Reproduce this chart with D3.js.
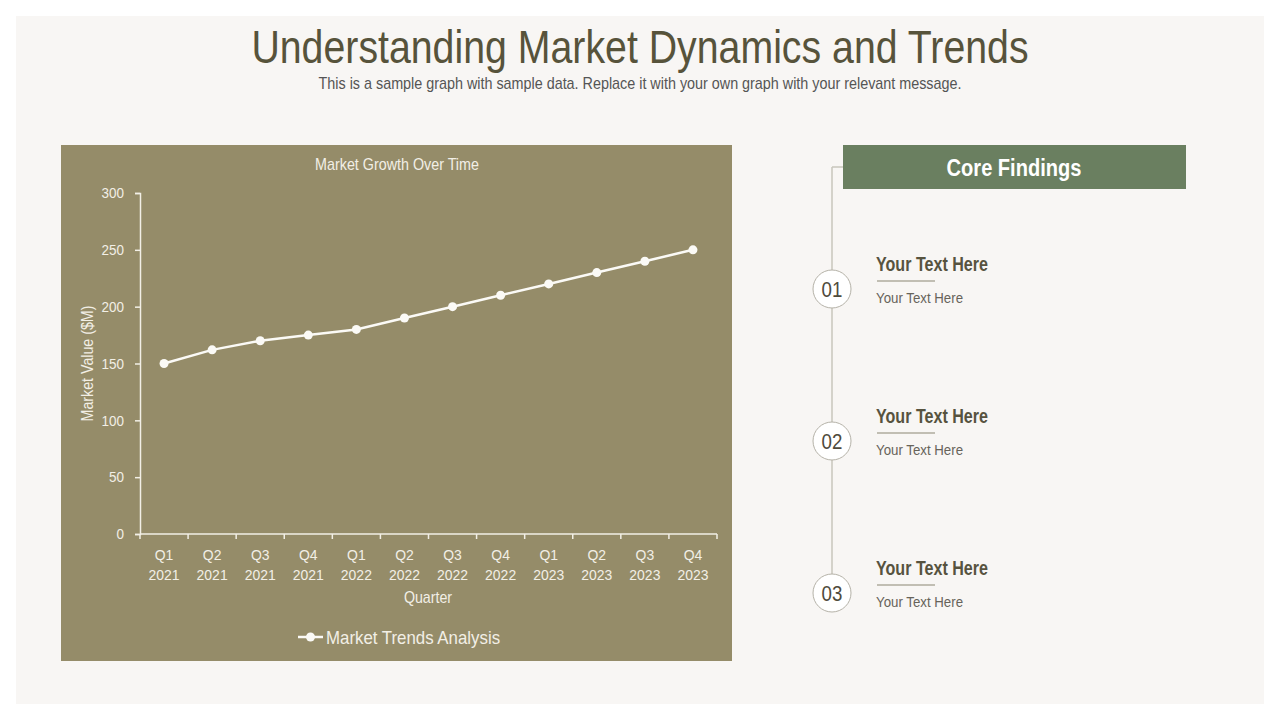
<!DOCTYPE html>
<html>
<head>
<meta charset="utf-8">
<script src="https://cdn.jsdelivr.net/npm/d3@7"></script>
<style>
  html, body { margin: 0; padding: 0; background: #ffffff; }
  svg { display: block; font-family: "Liberation Sans", Arial, sans-serif; }
</style>
</head>
<body>
<div id="chart"></div>
<script>
// data
const quarters = ['Q1', 'Q2', 'Q3', 'Q4', 'Q1', 'Q2', 'Q3', 'Q4', 'Q1', 'Q2', 'Q3', 'Q4'];
const years = ['2021', '2021', '2021', '2021', '2022', '2022', '2022', '2022', '2023', '2023', '2023', '2023'];
const marketValues = [150, 162, 170, 175, 180, 190, 200, 210, 220, 230, 240, 250];
const yTicks = [0, 50, 100, 150, 200, 250, 300];
const findingNumbers = ['01', '02', '03'];
const findingTitles = ['Your Text Here', 'Your Text Here', 'Your Text Here'];
const findingTexts = ['Your Text Here', 'Your Text Here', 'Your Text Here'];

const W = 1280, H = 720;
const SX = 0.89; // horizontal squeeze so Liberation Sans reads like a narrow face

const svg = d3.select('#chart').append('svg')
  .attr('width', W)
  .attr('height', H);

// narrow-looking text placed at x,y
function ntext(parent, x, y, sx = SX, extra = '') {
  return parent.append('text')
    .attr('transform', `translate(${x},${y}) ${extra} scale(${sx},1)`);
}

// slide background
svg.append('rect').attr('x', 16).attr('y', 16).attr('width', 1248).attr('height', 688).attr('fill', '#f8f6f4');

// heading
ntext(svg, 640, 63, 0.854)
  .attr('text-anchor', 'middle')
  .style('font-size', '46px')
  .style('fill', '#57533b')
  .text('Understanding Market Dynamics and Trends');

ntext(svg, 640, 89, 0.898)
  .attr('text-anchor', 'middle')
  .style('font-size', '16px')
  .style('fill', '#555')
  .text('This is a sample graph with sample data. Replace it with your own graph with your relevant message.');

// chart panel
const panel = { x: 61, y: 145, w: 671, h: 516 };
svg.append('rect')
  .attr('x', panel.x).attr('y', panel.y)
  .attr('width', panel.w).attr('height', panel.h)
  .attr('fill', '#958c69');

const plot = { left: 140, right: 717, top: 193, bottom: 534 };
const textColor = '#f2efe6';

const xScale = d3.scalePoint()
  .domain(d3.range(marketValues.length))
  .range([plot.left, plot.right])
  .padding(0.5);

const xBand = d3.scaleBand()
  .domain(d3.range(marketValues.length))
  .range([plot.left, plot.right]);

const yScale = d3.scaleLinear()
  .domain([0, 300])
  .range([plot.bottom, plot.top]);

const g = svg.append('g');

// chart title
ntext(g, 397, 170, 0.895)
  .attr('text-anchor', 'middle')
  .style('font-size', '16px')
  .style('fill', textColor)
  .text('Market Growth Over Time');

// y axis
const yAxis = g.append('g')
  .attr('transform', `translate(${plot.left},0)`)
  .call(d3.axisLeft(yScale).tickValues(yTicks).tickSize(5).tickPadding(8));
yAxis.attr('font-family', null).attr('font-size', null);
yAxis.select('.domain').attr('stroke', textColor).attr('stroke-width', 1.5);
yAxis.selectAll('.tick line').attr('stroke', textColor).attr('stroke-width', 1.5);
yAxis.selectAll('.tick text')
  .attr('x', null)
  .attr('transform', `translate(-16,0) scale(0.9,1)`)
  .style('font-size', '15px')
  .attr('fill', textColor);

// x axis: ticks at band boundaries, labels at band centres
const boundaries = d3.range(marketValues.length + 1).map(i => plot.left + i * xBand.step());
g.append('line')
  .attr('x1', plot.left).attr('x2', plot.right)
  .attr('y1', plot.bottom).attr('y2', plot.bottom)
  .attr('stroke', textColor).attr('stroke-width', 1.5);
g.selectAll('.xtick')
  .data(boundaries)
  .join('line')
  .attr('class', 'xtick')
  .attr('x1', d => d).attr('x2', d => d)
  .attr('y1', plot.bottom).attr('y2', plot.bottom + 5)
  .attr('stroke', textColor).attr('stroke-width', 1.5);

const xLabels = g.selectAll('.xlabel')
  .data(marketValues.map((v, i) => i))
  .join('text')
  .attr('class', 'xlabel')
  .attr('transform', d => `translate(${xScale(d)},0) scale(0.9,1)`)
  .attr('text-anchor', 'middle')
  .style('font-size', '15.5px')
  .style('fill', textColor);
xLabels.append('tspan')
  .attr('x', 0).attr('y', 560)
  .text(d => quarters[d]);
xLabels.append('tspan')
  .attr('x', 0).attr('y', 580)
  .text(d => years[d]);

// axis titles
ntext(g, 428, 603)
  .attr('text-anchor', 'middle')
  .style('font-size', '16px')
  .style('fill', textColor)
  .text('Quarter');

ntext(g, 93, (plot.top + plot.bottom) / 2, SX, 'rotate(-90)')
  .attr('text-anchor', 'middle')
  .style('font-size', '16px')
  .style('fill', textColor)
  .text('Market Value ($M)');

// line
const line = d3.line()
  .x((d, i) => xScale(i))
  .y(d => yScale(d));

g.append('path')
  .datum(marketValues)
  .attr('d', line)
  .attr('fill', 'none')
  .attr('stroke', '#fbfaf6')
  .attr('stroke-width', 2.5);

g.selectAll('.dot')
  .data(marketValues)
  .join('circle')
  .attr('class', 'dot')
  .attr('cx', (d, i) => xScale(i))
  .attr('cy', d => yScale(d))
  .attr('r', 4.5)
  .attr('fill', '#fbfaf6');

// legend
const legend = g.append('g').attr('transform', 'translate(298, 637)');
legend.append('line')
  .attr('x1', 0).attr('x2', 25).attr('y1', 0).attr('y2', 0)
  .attr('stroke', '#fbfaf6').attr('stroke-width', 2.5);
legend.append('circle').attr('cx', 12.5).attr('cy', 0).attr('r', 4.5).attr('fill', '#fbfaf6');
ntext(legend, 28, 6.5, 0.936)
  .style('font-size', '18px')
  .style('fill', textColor)
  .text('Market Trends Analysis');

// core findings side panel
const side = svg.append('g');
const timelineX = 832;
const itemYs = [289, 441, 593];

side.append('line')
  .attr('x1', timelineX).attr('x2', timelineX)
  .attr('y1', 167).attr('y2', itemYs[2])
  .attr('stroke', '#c9c6bd').attr('stroke-width', 1.5);
side.append('line')
  .attr('x1', timelineX).attr('x2', 843)
  .attr('y1', 167).attr('y2', 167)
  .attr('stroke', '#c9c6bd').attr('stroke-width', 1.5);

side.append('rect')
  .attr('x', 843).attr('y', 145)
  .attr('width', 343).attr('height', 44)
  .attr('fill', '#6a7f60');
ntext(side, 1014, 176, 0.836)
  .attr('text-anchor', 'middle')
  .style('font-size', '24px')
  .style('font-weight', 'bold')
  .style('fill', '#ffffff')
  .text('Core Findings');

const items = side.selectAll('.finding')
  .data(findingNumbers)
  .join('g')
  .attr('class', 'finding')
  .attr('transform', (d, i) => `translate(0, ${itemYs[i]})`);

items.append('circle')
  .attr('cx', timelineX).attr('cy', 0).attr('r', 19)
  .attr('fill', '#ffffff')
  .attr('stroke', '#b5b2a8').attr('stroke-width', 1);
items.append('text')
  .attr('transform', `translate(${timelineX},8) scale(0.85,1)`)
  .attr('text-anchor', 'middle')
  .style('font-size', '22px')
  .style('fill', '#4f4b3c')
  .text(d => d);

items.append('text')
  .attr('transform', `translate(876,-18) scale(0.825,1)`)
  .style('font-size', '19.5px')
  .style('font-weight', 'bold')
  .style('fill', '#57533f')
  .text((d, i) => findingTitles[i]);
items.append('line')
  .attr('x1', 877).attr('x2', 935)
  .attr('y1', -8).attr('y2', -8)
  .attr('stroke', '#8a8672').attr('stroke-width', 1);
items.append('text')
  .attr('transform', `translate(876,14) scale(0.885,1)`)
  .style('font-size', '15px')
  .style('fill', '#67635a')
  .text((d, i) => findingTexts[i]);
</script>
</body>
</html>
